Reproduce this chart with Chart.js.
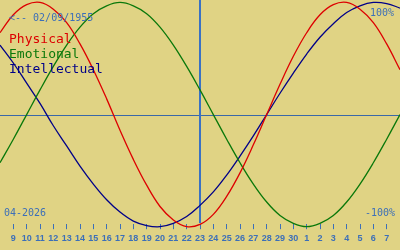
<!DOCTYPE html>
<html>
<head>
<meta charset="utf-8">
<script src="https://cdn.jsdelivr.net/npm/chart.js@4/dist/chart.umd.min.js"></script>
<style>
  html, body { margin: 0; padding: 0; background: #e0d384; }
  #wrap { width: 400px; height: 250px; }
</style>
</head>
<body>
<div id="wrap"><canvas id="bioChart"></canvas></div>
<script>
// days of month, 8 Apr 2026 .. 8 May 2026
const dayLabels = ["8", "9", "10", "11", "12", "13", "14", "15", "16", "17", "18", "19", "20",
  "21", "22", "23", "24", "25", "26", "27", "28", "29", "30",
  "1", "2", "3", "4", "5", "6", "7", "8"];

const physical = [0.73, 0.89, 0.98, 1.0, 0.94, 0.82, 0.63, 0.4, 0.14, -0.14, -0.4, -0.63,
  -0.82, -0.94, -1.0, -0.98, -0.89, -0.73, -0.52, -0.27, 0, 0.27, 0.52, 0.73, 0.89,
  0.98, 1.0, 0.94, 0.82, 0.63, 0.4];
const emotional = [-0.43, -0.22, 0, 0.22, 0.43, 0.62, 0.78, 0.9, 0.97, 1.0, 0.97, 0.9,
  0.78, 0.62, 0.43, 0.22, 0, -0.22, -0.43, -0.62, -0.78, -0.9, -0.97, -1.0, -0.97,
  -0.9, -0.78, -0.62, -0.43, -0.22, 0];
const intellectual = [0.62, 0.46, 0.28, 0.1, -0.1, -0.28, -0.46, -0.62, -0.76, -0.87,
  -0.95, -0.99, -1.0, -0.97, -0.91, -0.81, -0.69, -0.54, -0.37, -0.19, 0, 0.19, 0.37,
  0.54, 0.69, 0.81, 0.91, 0.97, 1.0, 0.99, 0.95];

const todayIndex = 15;
const birthText = "<-- 02/09/1955";
const monthText = "04-2026";

const BLUE = "#3c6fb8";

const overlay = {
  id: "overlay",
  beforeDatasetsDraw(chart) {
    const { ctx, scales: { x, y } } = chart;
    const y0 = Math.round(y.getPixelForValue(0)) + 0.5;
    const xt = Math.round(x.getPixelForValue(todayIndex));
    ctx.save();
    ctx.strokeStyle = "#3a68a8";
    ctx.lineWidth = 1;
    ctx.beginPath();
    ctx.moveTo(0, y0);
    ctx.lineTo(400, y0);
    ctx.stroke();
    ctx.fillStyle = "#3a72c4";
    ctx.fillRect(xt - 1, 0, 2, 223);
    ctx.restore();
  },
  afterDatasetsDraw(chart) {
    const { ctx } = chart;
    ctx.save();
    ctx.fillStyle = BLUE;
    ctx.font = "10px 'DejaVu Sans Mono'";
    ctx.textAlign = "left";
    ctx.fillText(birthText, 9, 21);
    ctx.fillText(monthText, 4, 216);
    ctx.textAlign = "right";
    ctx.fillText("100%", 394, 16);
    ctx.fillText("-100%", 395, 216);
    ctx.textAlign = "left";
    ctx.font = "13px 'DejaVu Sans Mono'";
    chart.data.datasets.forEach((ds, i) => {
      ctx.fillStyle = ds.borderColor;
      ctx.fillText(ds.label, 9, 43 + i * 15);
    });
    ctx.restore();
  },
};

const ctx = document.getElementById("bioChart").getContext("2d");
new Chart(ctx, {
  type: "line",
  data: {
    labels: dayLabels,
    datasets: [
      { label: "Physical", data: physical, borderColor: "#dd0000" },
      { label: "Emotional", data: emotional, borderColor: "#0a780a" },
      { label: "Intellectual", data: intellectual, borderColor: "#000088" },
    ],
  },
  options: {
    responsive: true,
    maintainAspectRatio: false,
    animation: false,
    layout: { padding: { top: 0, bottom: 2, left: 0, right: 0 } },
    elements: {
      point: { radius: 0 },
      line: { borderWidth: 1.3, tension: 0.4, fill: false },
    },
    datasets: { line: { clip: false } },
    plugins: { legend: { display: false }, tooltip: { enabled: false } },
    scales: {
      x: {
        type: "category",
        offset: false,
        afterBuildTicks(scale) {
          scale.ticks = scale.ticks.slice(1, -1);
        },
        border: { display: false },
        grid: {
          drawOnChartArea: false,
          drawTicks: true,
          tickLength: 5,
          color: BLUE,
          lineWidth: 1,
        },
        ticks: {
          autoSkip: false,
          maxRotation: 0,
          padding: 4,
          color: BLUE,
          font: { family: "'Liberation Sans'", size: 9, weight: "bold" },
          callback(value) {
            return this.getLabelForValue(value);
          },
        },
      },
      y: {
        display: false,
        min: -0.978,
        max: 1.022,
      },
    },
  },
  plugins: [overlay],
});
</script>
</body>
</html>
